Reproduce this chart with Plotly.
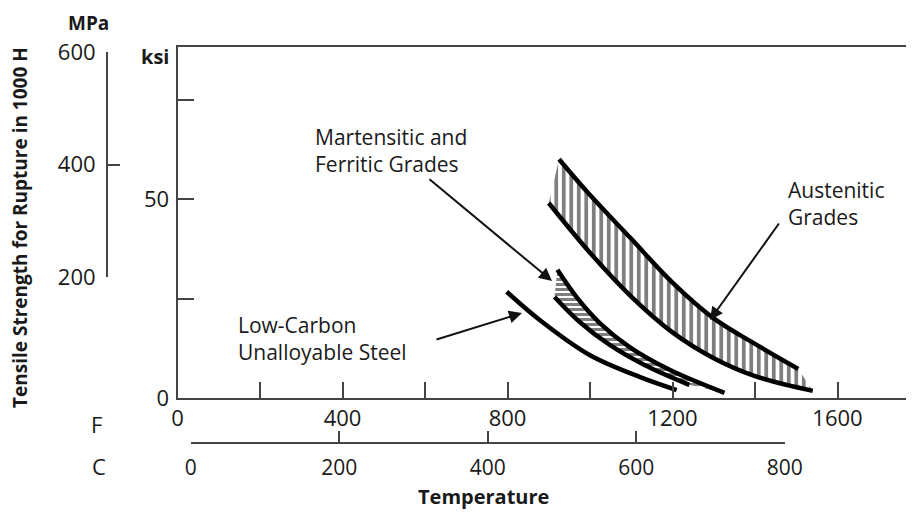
import plotly.graph_objects as go

W, H = 914, 519

# ---------------- data (temperature in F, strength in ksi) ----------------
aus_upper_F = [925, 1000, 1100, 1200, 1300, 1400, 1505]
aus_upper_ksi = [60.0, 51.0, 40.0, 29.0, 20.0, 13.6, 7.3]
aus_lower_F = [900, 1000, 1100, 1200, 1300, 1400, 1540]
aus_lower_ksi = [49.0, 36.5, 25.5, 16.5, 10.0, 5.5, 1.8]

mart_upper_F = [921, 967, 1023, 1096, 1193, 1326]
mart_upper_ksi = [32.2, 25.4, 18.9, 12.8, 7.1, 1.3]
mart_lower_F = [914, 975, 1047, 1132, 1241]
mart_lower_ksi = [25.4, 19.1, 13.4, 8.3, 3.3]

lowc_F = [798, 878, 999, 1120, 1210]
lowc_ksi = [26.7, 19.6, 10.8, 5.3, 2.0]

F_ticks = [0, 200, 400, 600, 800, 1000, 1200, 1400, 1600]
F_labels = ["0", "", "400", "", "800", "", "1200", "", "1600"]
ksi_ticks = [0, 25, 50, 75]
ksi_labels = ["0", "", "50", ""]
MPa_ticks = [200, 400, 600]
C_ticks = [0, 200, 400, 600, 800]

# ---------------- layout helpers ----------------
OFF = 8  # page body offset of the plot div


def px(x):
    return (x - OFF) / W


def py(y):
    return 1 - (y - OFF) / H


X0 = 177.5                  # pixel of 0 F
F_PER_PX = 660.0 / 1600.0   # pixels per degree F
X_RIGHT = W + OFF
F_MAX = (X_RIGHT - X0) / F_PER_PX
Y0, YTOP = 398, 47
KSI_MAX = 88.2
KSI_PX = (Y0 - YTOP) / KSI_MAX

FONT = "Open Sans, Noto Sans, sans-serif"
TXT = "#1a1a1a"
AX = "#444444"

fig = go.Figure()

line_k = dict(color="black", width=4.5, shape="spline", smoothing=1.0)

# Austenitic band
fig.add_trace(go.Scatter(x=aus_lower_F, y=aus_lower_ksi, mode="lines",
                         line=line_k, hoverinfo="skip", showlegend=False))
fig.add_trace(go.Scatter(x=aus_upper_F, y=aus_upper_ksi, mode="lines",
                         line=line_k, fill="tonexty", fillcolor="white",
                         fillpattern=dict(shape="|", size=7.5, solidity=0.5,
                                          fgcolor="black", bgcolor="white"),
                         hoverinfo="skip", showlegend=False))
# Martensitic band
fig.add_trace(go.Scatter(x=mart_lower_F, y=mart_lower_ksi, mode="lines",
                         line=line_k, hoverinfo="skip", showlegend=False))
fig.add_trace(go.Scatter(x=mart_upper_F, y=mart_upper_ksi, mode="lines",
                         line=line_k, fill="tonexty", fillcolor="white",
                         fillpattern=dict(shape="-", size=5, solidity=0.6,
                                          fgcolor="black", bgcolor="white"),
                         hoverinfo="skip", showlegend=False))
# Low carbon
fig.add_trace(go.Scatter(x=lowc_F, y=lowc_ksi, mode="lines",
                         line=line_k, hoverinfo="skip", showlegend=False))

# invisible anchors so secondary axes are drawn
fig.add_trace(go.Scatter(x=[0], y=[400], xaxis="x", yaxis="y2", mode="markers",
                         marker=dict(opacity=0), hoverinfo="skip", showlegend=False))
fig.add_trace(go.Scatter(x=[400], y=[0], xaxis="x2", yaxis="y", mode="markers",
                         marker=dict(opacity=0), hoverinfo="skip", showlegend=False))

c_left = X0 + 32 * F_PER_PX
c_right = X0 + (800 * 1.8 + 32) * F_PER_PX

tickfont = dict(family=FONT, size=22, color=TXT)
axcommon = dict(showgrid=False, zeroline=False, showline=True, linecolor=AX,
                linewidth=2, tickcolor=AX, tickwidth=2,
                fixedrange=True, automargin=False)

fig.update_layout(
    width=W, height=H,
    margin=dict(l=0, r=0, t=0, b=0, pad=0, autoexpand=False),
    paper_bgcolor="white", plot_bgcolor="rgba(0,0,0,0)",
    showlegend=False,
    xaxis=dict(domain=[px(X0), 1.0], range=[0, F_MAX], anchor="y",
               mirror=True, ticks="inside", ticklen=16,
               tickvals=F_ticks, ticktext=F_labels, ticklabelstandoff=0,
               tickfont=tickfont, **axcommon),
    yaxis=dict(domain=[py(Y0), py(YTOP)], range=[0, KSI_MAX], anchor="x",
               ticks="inside", ticklen=16, tickvals=ksi_ticks,
               ticktext=ksi_labels, ticklabelstandoff=2,
               tickfont=tickfont, **axcommon),
    yaxis2=dict(domain=[py(277), py(52)], range=[200, 600], anchor="free",
                position=px(107), side="left", ticks="inside", ticklen=12,
                tickvals=MPa_ticks, ticklabelstandoff=6,
                tickfont=tickfont, **axcommon),
    xaxis2=dict(domain=[px(c_left), px(c_right)], range=[0, 800],
                anchor="free", position=py(443), side="bottom",
                ticks="inside", ticklen=11, tickvals=C_ticks,
                ticklabelstandoff=6,
                tickfont=dict(family=FONT, size=21, color=TXT), **axcommon),
)

ann = []


def label(text, x, y, size=22, bold=False, xanchor="left", angle=0):
    t = "<b>%s</b>" % text if bold else text
    ann.append(dict(text=t, x=px(x), y=py(y), xref="paper", yref="paper",
                    xanchor=xanchor, yanchor="middle", showarrow=False,
                    textangle=angle, align="left",
                    font=dict(family=FONT, size=size, color=TXT)))


label("Martensitic and<br>Ferritic Grades", 313, 150, size=21)
label("Low-Carbon<br>Unalloyable Steel", 236, 338, size=21)
label("Austenitic<br>Grades", 786, 203, size=21)
label("MPa", 88, 23, size=19, bold=True, xanchor="center")
label("ksi", 155, 57, size=20, bold=True, xanchor="center")
label("F", 96, 424, xanchor="center")
label("C", 99, 466, xanchor="center")
label("Temperature", 483, 496, size=20, bold=True, xanchor="center")
label("Tensile Strength for Rupture in 1000 H", 20, 228, size=19, bold=True,
      xanchor="center", angle=-90)


def arrow(tail_px, tip_px):
    tx = (tip_px[0] - X0) / F_PER_PX
    ty = (Y0 - tip_px[1]) / KSI_PX
    ax_ = (tail_px[0] - X0) / F_PER_PX
    ay_ = (Y0 - tail_px[1]) / KSI_PX
    ann.append(dict(text="", x=tx, y=ty, ax=ax_, ay=ay_, xref="x", yref="y",
                    axref="x", ayref="y", showarrow=True, arrowhead=2,
                    arrowsize=1.3, arrowwidth=2, arrowcolor="#111111",
                    standoff=0))


arrow((428, 178), (552, 281))
arrow((435, 340), (522, 313))
arrow((780, 222), (710, 320))

fig.update_layout(annotations=ann)

fig.write_html("out.html")
